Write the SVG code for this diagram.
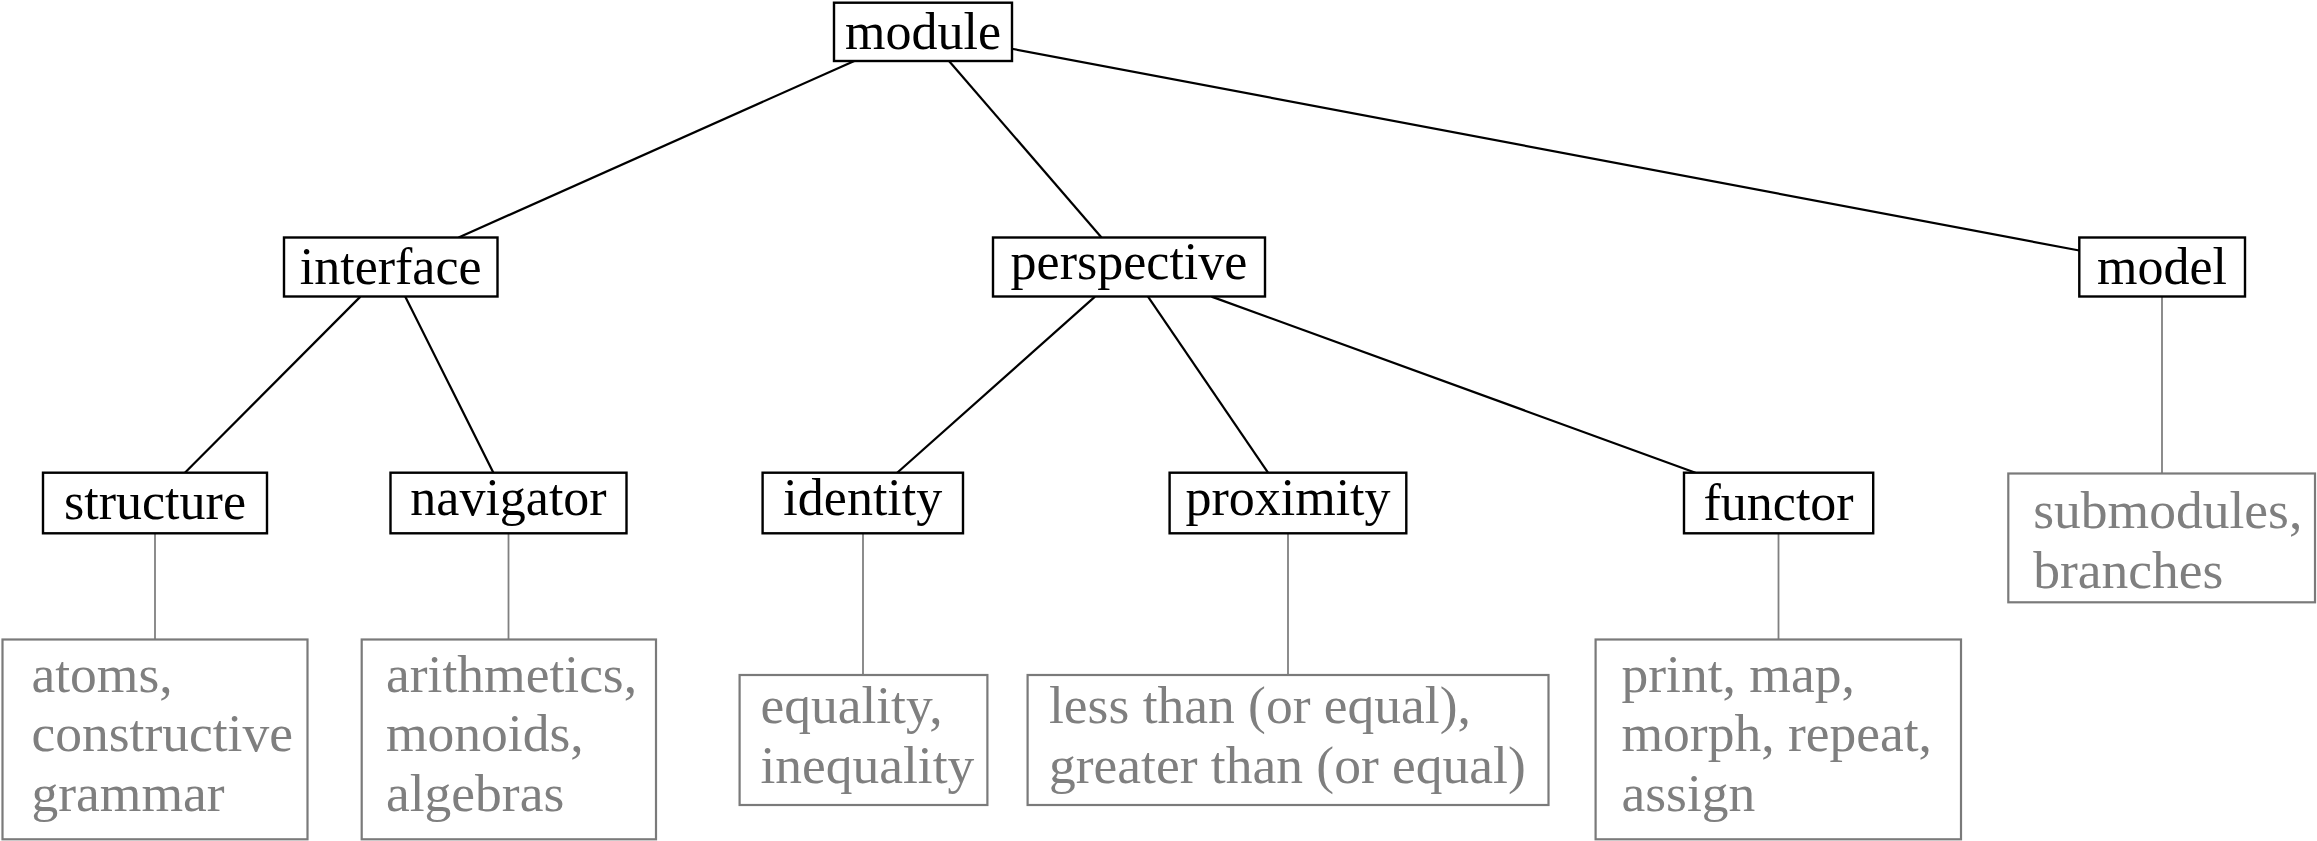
<svg xmlns="http://www.w3.org/2000/svg" width="2317" height="841" viewBox="0 0 2317 841">
<style>
  .bg { fill: #ffffff; }
  .nb { fill: #ffffff; stroke: #000000; stroke-width: 2.4; }
  .gb { fill: #ffffff; stroke: #7a7a7a; stroke-width: 2.2; }
  .bt { font-family: "Liberation Serif", "Times New Roman", serif; font-size: 52px; fill: #000000; text-anchor: middle; }
  .gt { font-family: "Liberation Serif", "Times New Roman", serif; font-size: 53.5px; fill: #7f7f7f; }
  .cb { stroke: #000000; stroke-width: 2.2; fill: none; }
  .cg { stroke: #808080; stroke-width: 1.8; fill: none; }
</style>
<rect class="bg" x="0" y="0" width="2317" height="841"/>
<g id="connectors">
  <line class="cb" x1="854.3" y1="61" x2="458.6" y2="237.5"/>
  <line class="cb" x1="949" y1="61" x2="1101.5" y2="237.5"/>
  <line class="cb" x1="1010.5" y1="48.5" x2="2079.3" y2="250.5"/>
  <line class="cb" x1="360.4" y1="296.6" x2="184.9" y2="472.7"/>
  <line class="cb" x1="405.2" y1="296.6" x2="493.4" y2="472.7"/>
  <line class="cb" x1="1095" y1="296.6" x2="897.2" y2="472.7"/>
  <line class="cb" x1="1148" y1="296.6" x2="1268" y2="472.7"/>
  <line class="cb" x1="1211.5" y1="296.6" x2="1695.5" y2="472.7"/>
  <line class="cg" x1="155" y1="533.3" x2="155" y2="639.5"/>
  <line class="cg" x1="508.5" y1="533.3" x2="508.5" y2="639.5"/>
  <line class="cg" x1="863" y1="533.3" x2="863" y2="675"/>
  <line class="cg" x1="1288" y1="533.3" x2="1288" y2="675"/>
  <line class="cg" x1="1778.5" y1="533.3" x2="1778.5" y2="639.5"/>
  <line class="cg" x1="2162" y1="296.6" x2="2162" y2="473.5"/>
</g>
<g id="module">
  <rect class="nb" x="834" y="2.7" width="178" height="58.3"/>
  <text class="bt" x="923" y="48.5">module</text>
</g>
<g id="interface">
  <rect class="nb" x="284" y="237.5" width="213.5" height="59"/>
  <text class="bt" x="390.7" y="284">interface</text>
</g>
<g id="perspective">
  <rect class="nb" x="993" y="237.5" width="272" height="59"/>
  <text class="bt" x="1129" y="278.5">perspective</text>
</g>
<g id="model">
  <rect class="nb" x="2079.3" y="237.5" width="165.7" height="59"/>
  <text class="bt" x="2162" y="284">model</text>
</g>
<g id="structure">
  <rect class="nb" x="43" y="472.7" width="224" height="60.6"/>
  <text class="bt" x="155" y="519">structure</text>
</g>
<g id="navigator">
  <rect class="nb" x="390.5" y="472.7" width="236" height="60.6"/>
  <text class="bt" x="508.5" y="514.6">navigator</text>
</g>
<g id="identity">
  <rect class="nb" x="762.6" y="472.7" width="200.4" height="60.6"/>
  <text class="bt" x="862.8" y="515.3">identity</text>
</g>
<g id="proximity">
  <rect class="nb" x="1169.6" y="472.7" width="236.7" height="60.6"/>
  <text class="bt" x="1288" y="514.6">proximity</text>
</g>
<g id="functor">
  <rect class="nb" x="1684" y="472.7" width="189.2" height="60.6"/>
  <text class="bt" x="1778.6" y="520">functor</text>
</g>
<g id="atoms">
  <rect class="gb" x="2.5" y="639.5" width="305" height="199.8"/>
  <text class="gt" x="31.5" y="691.5">atoms,</text>
  <text class="gt" x="31.5" y="751">constructive</text>
  <text class="gt" x="31.5" y="810.5">grammar</text>
</g>
<g id="arithmetics">
  <rect class="gb" x="361.7" y="639.5" width="294.3" height="199.8"/>
  <text class="gt" x="386" y="691.5">arithmetics,</text>
  <text class="gt" x="386" y="751">monoids,</text>
  <text class="gt" x="386" y="810.5">algebras</text>
</g>
<g id="equality">
  <rect class="gb" x="739.6" y="675" width="247.8" height="130"/>
  <text class="gt" x="760.4" y="723">equality,</text>
  <text class="gt" x="760.4" y="782.5">inequality</text>
</g>
<g id="lessthan">
  <rect class="gb" x="1027.6" y="675" width="520.9" height="130"/>
  <text class="gt" x="1049" y="723">less than (or equal),</text>
  <text class="gt" x="1049" y="782.5">greater than (or equal)</text>
</g>
<g id="print">
  <rect class="gb" x="1595.6" y="639.5" width="365.4" height="199.8"/>
  <text class="gt" x="1621.5" y="691.5">print, map,</text>
  <text class="gt" x="1621.5" y="751">morph, repeat,</text>
  <text class="gt" x="1621.5" y="810.5">assign</text>
</g>
<g id="submodules">
  <rect class="gb" x="2008.3" y="473.5" width="306.7" height="128.8"/>
  <text class="gt" x="2033.3" y="528">submodules,</text>
  <text class="gt" x="2033.3" y="587.5">branches</text>
</g>
</svg>
